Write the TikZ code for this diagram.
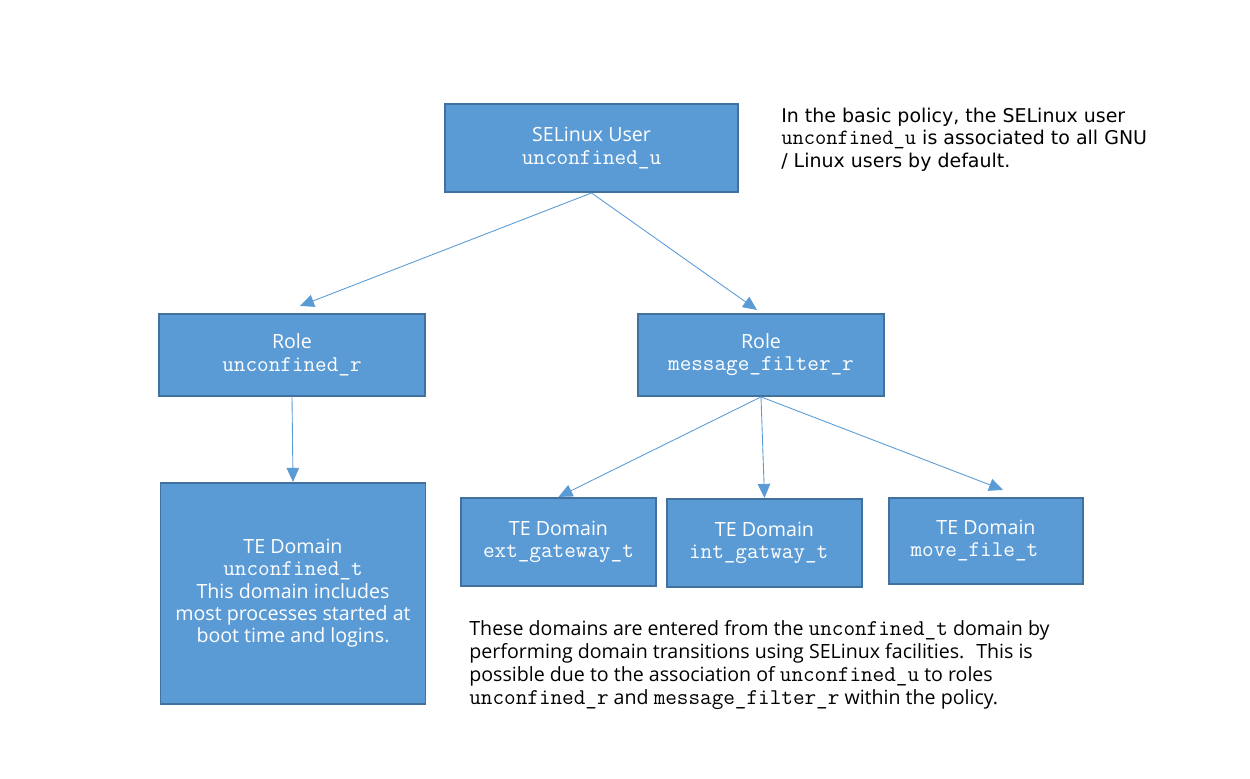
\documentclass[tikz,border=0pt]{standalone}
\usepackage{fontspec}
\setmainfont{Open Sans}
\setmonofont{Latin Modern Mono}[Scale=1.15]
\newfontfamily\notefont{DejaVu Sans}
\newcommand{\code}[1]{{\ttfamily #1}}
\definecolor{boxfill}{HTML}{5B9BD5}
\definecolor{boxborder}{HTML}{41719C}
\usetikzlibrary{positioning, arrows.meta}

\begin{document}
\begin{tikzpicture}[
        box/.style = {draw=boxborder, fill=boxfill, line width=1.1pt, text=white, align=center, inner sep=2pt, font=\fontsize{11.15pt}{12.7pt}\selectfont},
        note/.style = {align=left, inner sep=0pt, font=\fontsize{11.15pt}{13.1pt}\selectfont},
        arrow/.style = {-{Triangle[length=2.8mm, width=2.5mm]}, draw=boxfill, line width=0.5pt}
    ]
        \useasboundingbox (0,0) rectangle (25,-15.56);

        \node[box, minimum width=5.86cm, minimum height=1.76cm] (user) at (11.83,-2.96) {SELinux User\\\code{unconfined\_u}};

        \node[box, minimum width=5.32cm, minimum height=1.64cm, below=2.40cm of user, xshift=-5.99cm] (roleU) {Role\\\code{unconfined\_r}};
        \node[box, minimum width=5.30cm, minimum height=4.42cm, below=1.70cm of roleU, xshift=0.02cm] (domU) {TE Domain\\\code{unconfined\_t}\\This domain includes\\most processes started at\\boot time and logins.};

        \node[box, minimum width=4.92cm, minimum height=1.64cm, below=2.40cm of user, xshift=3.39cm] (roleM) {Role\\\code{message\_filter\_r}};
        \node[box, minimum width=3.90cm, minimum height=1.76cm, below=2.00cm of roleM, xshift=-4.05cm] (domExt) {TE Domain\\\code{ext\_gateway\_t~}};
        \node[box, minimum width=3.90cm, minimum height=1.76cm, below=2.02cm of roleM, xshift=0.07cm] (domInt) {TE Domain\\\code{int\_gatway\_t~~}};
        \node[box, minimum width=3.88cm, minimum height=1.72cm, below=2.00cm of roleM, xshift=4.50cm] (domMove) {TE Domain\\\code{move\_file\_t~~~}};

        \node[note, font=\notefont\fontsize{10.8pt}{12.6pt}\selectfont, right=0.84cm of user.north east, anchor=north west, yshift=-0.1cm] (policy) {In the basic policy, the SELinux user\\\code{unconfined\_u} is associated to all GNU\\/ Linux users by default.};
        \node[note, below=0.66cm of domExt.south west, anchor=north west, xshift=0.18cm] (entry) {These domains are entered from the \code{unconfined\_t} domain by\\performing domain transitions using SELinux facilities.~ This is\\possible due to the association of \code{unconfined\_u} to roles\\\code{unconfined\_r} and \code{message\_filter\_r} within the policy.};

        \draw[arrow] (user.south) -- ([shift={(0.16cm,0.14cm)}]roleU.north);
        \draw[arrow] (user.south) -- ([shift={(-0.08cm,0.06cm)}]roleM.north);
        \draw[arrow] (roleU.south) -- (domU.north);
        \draw[arrow] (roleM.south) -- (domExt.north);
        \draw[arrow] (roleM.south) -- (domInt.north);
        \draw[arrow] (roleM.south) -- ([shift={(0.34cm,0.14cm)}]domMove.north);

    \end{tikzpicture}
\end{document}
